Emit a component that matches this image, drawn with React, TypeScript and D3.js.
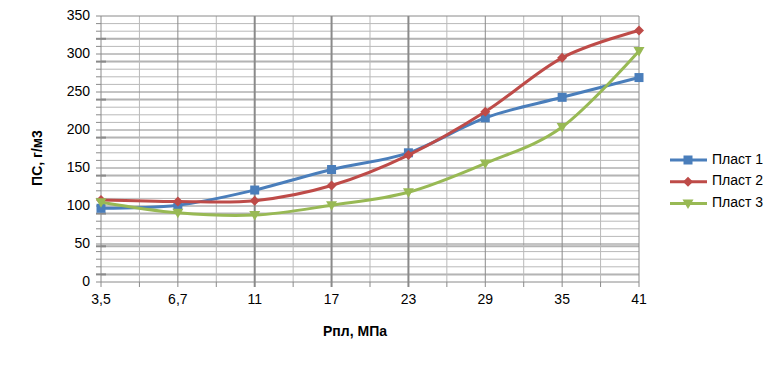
import * as d3 from 'd3';

const categories = ['3,5', '6,7', '11', '17', '23', '29', '35', '41'];
const plast1 = [97, 101, 121, 148, 170, 216, 243, 269];
const plast2 = [108, 106, 107, 127, 167, 224, 295, 331];
const plast3 = [105, 91, 88, 101, 118, 156, 204, 304];
const yTicks = [0, 50, 100, 150, 200, 250, 300, 350];

const series = [
  { name: 'Пласт 1', values: plast1, color: '#4A7EBB', marker: 'square' },
  { name: 'Пласт 2', values: plast2, color: '#BE4B48', marker: 'diamond' },
  { name: 'Пласт 3', values: plast3, color: '#98B954', marker: 'triangle' },
];

const W = 781;
const H = 366;
const margin = { left: 101, right: 142, top: 16, bottom: 84 };
const font = '"Liberation Sans", Arial, sans-serif';

function Marker({ type, x, y, color }) {
  if (type === 'square') {
    return <rect x={x - 4.5} y={y - 4.5} width={9} height={9} fill={color} />;
  }
  if (type === 'diamond') {
    return <path d={`M${x},${y - 5}L${x + 5},${y}L${x},${y + 5}L${x - 5},${y}Z`} fill={color} />;
  }
  return <path d={`M${x - 5.5},${y - 4}L${x + 5.5},${y - 4}L${x},${y + 5.5}Z`} fill={color} />;
}

export default function App() {
  const innerW = W - margin.left - margin.right;
  const innerH = H - margin.top - margin.bottom;

  const x = d3.scalePoint().domain(categories).range([0, innerW]);
  const y = d3.scaleLinear().domain([0, 350]).range([innerH, 0]);
  const step = x.step();

  const minorY = d3.range(0, 351, 10).filter((v) => v % 50 !== 0);
  // heavier light lines that appear in the original picture
  const heavyY = [10, 47, 90, 140, 190, 240, 290, 320];
  const midX = categories.slice(0, -1).map((c) => x(c) + step / 2);
  const thickCats = ['11', '17', '23'];

  const line = d3
    .line()
    .x((d, i) => x(categories[i]))
    .y((d) => y(d))
    .curve(d3.curveCatmullRom.alpha(0));

  return (
    <svg
      width={W}
      height={H}
      style={{ position: 'absolute', left: 0, top: 0, background: '#fff' }}
    >
      <g transform={`translate(${margin.left},${margin.top})`}>
        {/* minor grid */}
        {minorY.map((v) => (
          <g key={`my-${v}`}>
            <line x1={0} x2={innerW} y1={y(v)} y2={y(v)} stroke="#b9b9b9" strokeWidth={1} />
            <line x1={-5} x2={0} y1={y(v)} y2={y(v)} stroke="#8a8a8a" strokeWidth={1} />
          </g>
        ))}
        {heavyY.map((v) => (
          <g key={`hy-${v}`}>
            <line x1={0} x2={innerW} y1={y(v)} y2={y(v)} stroke="#b4b4b4" strokeWidth={2} />
            <line x1={-5} x2={5} y1={y(v)} y2={y(v)} stroke="#8a8a8a" strokeWidth={2} />
          </g>
        ))}
        {midX.map((mx, i) => (
          <g key={`mx-${i}`}>
            <line x1={mx} x2={mx} y1={0} y2={innerH} stroke="#b9b9b9" strokeWidth={1} />
            <line x1={mx} x2={mx} y1={innerH} y2={innerH + 5} stroke="#8a8a8a" strokeWidth={1} />
          </g>
        ))}
        {/* major grid */}
        {yTicks.map((v) => (
          <g key={`yt-${v}`}>
            <line x1={-5} x2={innerW} y1={y(v)} y2={y(v)} stroke="#8a8a8a" strokeWidth={1} />
            <text
              x={-11}
              y={y(v)}
              textAnchor="end"
              dominantBaseline="middle"
              fontFamily={font}
              fontSize={14}
              fill="#000"
            >
              {v}
            </text>
          </g>
        ))}
        {categories.map((c) => (
          <g key={`xt-${c}`}>
            <line
              x1={x(c)}
              x2={x(c)}
              y1={0}
              y2={innerH + 5}
              stroke="#8a8a8a"
              strokeWidth={thickCats.includes(c) ? 2 : 1}
            />
            <text
              x={x(c)}
              y={innerH + 18}
              textAnchor="middle"
              dominantBaseline="middle"
              fontFamily={font}
              fontSize={14}
              fill="#000"
            >
              {c}
            </text>
          </g>
        ))}

        {/* series */}
        {series.map((s) => (
          <g key={s.name}>
            <path d={line(s.values)} fill="none" stroke={s.color} strokeWidth={3} />
            {s.values.map((v, i) => (
              <Marker key={i} type={s.marker} x={x(categories[i])} y={y(v)} color={s.color} />
            ))}
          </g>
        ))}
      </g>

      {/* axis titles */}
      <text
        x={355}
        y={332}
        textAnchor="middle"
        dominantBaseline="middle"
        fontFamily={font}
        fontSize={14}
        fontWeight="bold"
      >
        Рпл, МПа
      </text>
      <text
        transform="translate(38,158) rotate(-90)"
        textAnchor="middle"
        dominantBaseline="middle"
        fontFamily={font}
        fontSize={14}
        fontWeight="bold"
      >
        ПС, г/м3
      </text>

      {/* legend */}
      {series.map((s, i) => {
        const ly = 160 + i * 21.7;
        return (
          <g key={`lg-${s.name}`}>
            <line x1={670} x2={707} y1={ly} y2={ly} stroke={s.color} strokeWidth={3} />
            <Marker type={s.marker} x={688} y={ly} color={s.color} />
            <text
              x={712}
              y={ly}
              dominantBaseline="middle"
              fontFamily={font}
              fontSize={14}
              fill="#000"
            >
              {s.name}
            </text>
          </g>
        );
      })}
    </svg>
  );
}
